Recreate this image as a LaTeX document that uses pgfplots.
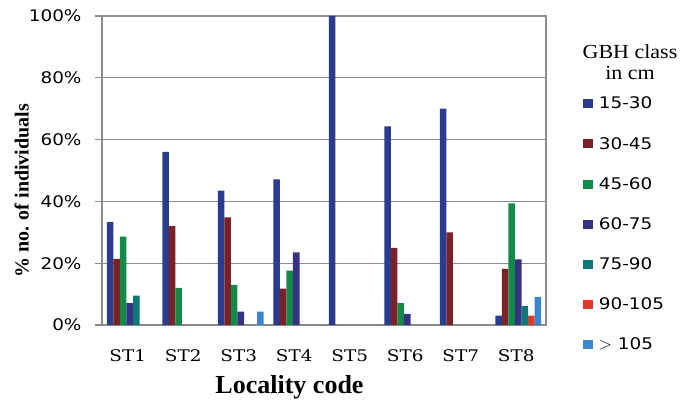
\documentclass[border=0pt]{standalone}
\usepackage{fontspec}
\setmainfont{Liberation Serif}
\newfontfamily\tickfont[FakeStretch=1.15]{DejaVu Sans}
\newfontfamily\catfont[FakeStretch=1.15]{DejaVu Serif}
\newfontfamily\ttlfont[FakeStretch=1.1]{Liberation Serif}
\usepackage{pgfplots}
\pgfplotsset{compat=1.18}
\definecolor{gridgray}{HTML}{8C8C8C}
\definecolor{c1}{HTML}{2A3C8E}
\definecolor{c2}{HTML}{7A2228}
\definecolor{c3}{HTML}{138A48}
\definecolor{c4}{HTML}{363482}
\definecolor{c5}{HTML}{0E7779}
\definecolor{c6}{HTML}{DB3B2C}
\definecolor{c7}{HTML}{3D85CE}
\begin{document}
\begin{tikzpicture}
\useasboundingbox (-102bp,-76bp) rectangle (581bp,325bp);
\begin{axis}[
  at={(0,0)}, anchor=south west,
  scale only axis, width=444bp, height=309bp,
  ybar=0pt, bar width=0.118,
  xmin=-0.5, xmax=7.5, ymin=0, ymax=100,
  xtick={0,1,2,3,4,5,6,7},
  xticklabels={ST1,ST2,ST3,ST4,ST5,ST6,ST7,ST8},
  major x tick style={draw=none},
  ytick={0,20,40,60,80,100},
  yticklabels={0\%,20\%,40\%,60\%,80\%,100\%},
  ytick pos=left, tick align=outside, major tick length=7bp,
  ymajorgrids, grid style={draw=gridgray, line width=1.2bp},
  axis line style={draw=gridgray, line width=1.2bp},
  every tick/.style={draw=gridgray, line width=1.2bp},
  yticklabel style={font=\tickfont\fontsize{16bp}{19bp}\selectfont, text=black, xshift=-10bp},
  xticklabel style={font=\catfont\fontsize{16bp}{19bp}\selectfont, text=black, yshift=-14bp, xshift=-2bp},
  xlabel={Locality code},
  ylabel={\% no. of individuals},
  every axis x label/.style={at={(axis description cs:0.4223,0)}, anchor=base, yshift=-68bp, font=\bfseries\fontsize{26bp}{30bp}\selectfont},
  every axis y label/.style={at={(axis description cs:-0.1655,0.4337)}, rotate=90, anchor=base, font=\bfseries\fontsize{20bp}{24bp}\selectfont},
  legend image code/.code={\fill[#1] (0bp,-4.5bp) rectangle (10bp,4.5bp);},
  legend cell align=left,
  legend style={at={(1.0827,0.7383)}, anchor=north west, draw=none, fill=none,
    inner sep=0pt, row sep=26.8bp, column sep=6bp,
    nodes={inner sep=0pt},
    font=\tickfont\fontsize{16bp}{19bp}\selectfont},
]
\addplot[fill=c1, draw=none] coordinates {(0,33.3) (1,56.0) (2,43.5) (3,47.1) (4,100) (5,64.3) (6,70.0) (7,3.0)};
\addplot[fill=c2, draw=none] coordinates {(0,21.4) (1,32.0) (2,34.8) (3,11.8) (4,0) (5,25.0) (6,30.0) (7,18.2)};
\addplot[fill=c3, draw=none] coordinates {(0,28.6) (1,12.0) (2,13.0) (3,17.6) (4,0) (5,7.1) (6,0) (7,39.4)};
\addplot[fill=c4, draw=none] coordinates {(0,7.1) (1,0) (2,4.35) (3,23.5) (4,0) (5,3.6) (6,0) (7,21.2)};
\addplot[fill=c5, draw=none] coordinates {(0,9.5) (1,0) (2,0) (3,0) (4,0) (5,0) (6,0) (7,6.1)};
\addplot[fill=c6, draw=none] coordinates {(0,0) (1,0) (2,0) (3,0) (4,0) (5,0) (6,0) (7,3.0)};
\addplot[fill=c7, draw=none] coordinates {(0,0) (1,0) (2,4.35) (3,0) (4,0) (5,0) (6,0) (7,9.1)};
\legend{15-30,30-45,45-60,60-75,75-90,90-105,{$>$ 105}}
\end{axis}
\node[anchor=base, font=\ttlfont\fontsize{20bp}{24bp}\selectfont, inner sep=0pt] at (528bp,266.7bp) {GBH class};
\node[anchor=base, font=\ttlfont\fontsize{20bp}{24bp}\selectfont, inner sep=0pt] at (528bp,245.7bp) {in cm};
\end{tikzpicture}
\end{document}
